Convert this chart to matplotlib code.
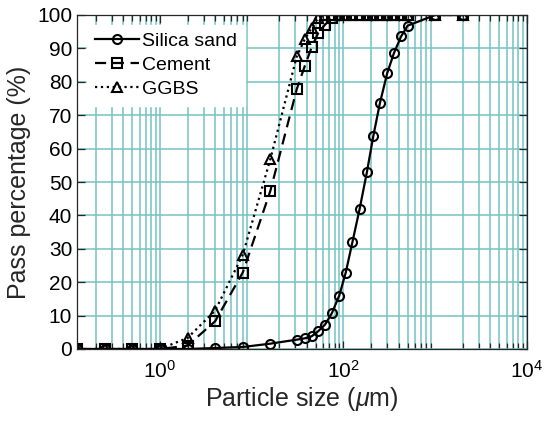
import numpy as np
import matplotlib
matplotlib.use('Agg')
import matplotlib.pyplot as plt

plt.rcParams['font.family'] = ['Liberation Sans', 'DejaVu Sans']
plt.rcParams['mathtext.fontset'] = 'custom'
plt.rcParams['mathtext.rm'] = 'Liberation Sans'
plt.rcParams['mathtext.it'] = 'Liberation Sans:italic'

# particle sizes (um)
size = [0.125, 0.25, 0.5, 1, 2, 4, 8, 16, 31, 38, 45, 53, 63, 75, 90, 106,
        125, 150, 180, 212, 250, 300, 355, 425, 500, 1000, 2000]

# pass percentage (%)
silica = [0, 0, 0, 0, 0, 0.3, 0.6, 1.6, 2.8, 3.2, 3.8, 5.3, 7.3, 10.8, 16.0, 22.9,
          31.9, 41.9, 52.9, 63.9, 73.7, 82.6, 88.6, 93.6, 96.8, 100, 100]
cement = [0, 0, 0, 0, 1.0, 8.3, 22.9, 47.4, 77.8, 84.8, 90.3, 94.6, 97.1, 99.1, 100, 100,
          100, 100, 100, 100, 100, 100, 100, 100, 100, 100, 100]
ggbs = [0, 0, 0, 0, 3.3, 11.5, 28.2, 56.9, 87.6, 92.8, 96.1, 99.1, 100, 100, 100, 100,
        100, 100, 100, 100, 100, 100, 100, 100, 100, 100, 100]

grid_col = '#74c2c2'

fig = plt.figure(figsize=(5.5, 4.24), dpi=100)
ax = fig.add_axes([77/550, 1-349/424, 450/550, 334/424])

mk = dict(color='k', lw=1.6, markersize=6.5, markerfacecolor='none', markeredgewidth=1.5)
ax.plot(size, silica, '-o', label='Silica sand', **mk)
ax.plot(size, cement, '--s', label='Cement', dashes=(5, 3), **mk)
ax.plot(size, ggbs, ':^', label='GGBS', **mk)

ax.set_xscale('log')
ax.set_xlim(0.125, 1e4)
ax.set_ylim(0, 100)
ax.set_yticks(np.arange(0, 101, 10))
ax.set_xticks([1e0, 1e2, 1e4])
ax.xaxis.set_minor_locator(matplotlib.ticker.LogLocator(base=10, subs=np.arange(2, 10), numticks=20))
ax.xaxis.set_minor_formatter(matplotlib.ticker.NullFormatter())

ax.grid(True, which='both', axis='x', color=grid_col, lw=1.1)
ax.grid(True, which='major', axis='y', color=grid_col, lw=1.1)
ax.set_axisbelow(True)

ax.tick_params(which='both', direction='in', top=True, right=True, labelsize=15, color='#262626')
ax.tick_params(which='major', length=6, width=0.9)
ax.tick_params(which='minor', length=4, width=0.9)
ax.tick_params(axis='x', pad=8)
for s in ax.spines.values():
    s.set_linewidth(0.9)
    s.set_color('#262626')

ax.set_xlabel(r'Particle size ($\mu$m)', fontsize=18, color='#262626', labelpad=2)
ax.set_ylabel('Pass percentage (%)', fontsize=18, color='#262626', labelpad=4)

leg = ax.legend(loc='upper left', fontsize=14, frameon=True, fancybox=False,
                edgecolor='white', facecolor='white', framealpha=1,
                handlelength=2.3, handletextpad=0.15, borderaxespad=0.5,
                borderpad=0.4, labelspacing=0.33)

fig.savefig('out.png', dpi=100)
